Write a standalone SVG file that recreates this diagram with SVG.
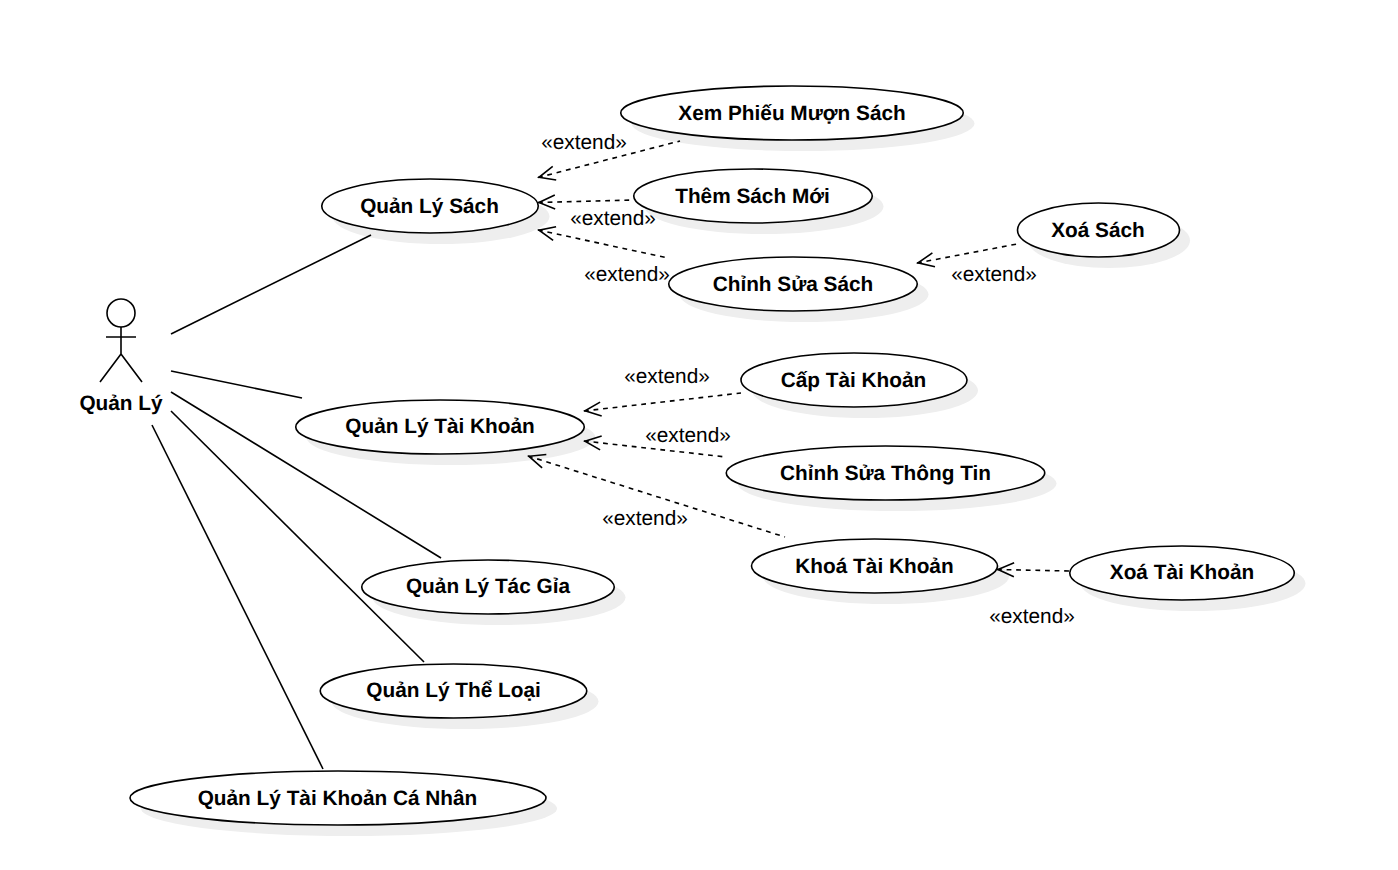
<svg xmlns="http://www.w3.org/2000/svg" width="1398" height="870" viewBox="0 0 1398 870">
<defs>
<marker id="open" markerUnits="userSpaceOnUse" markerWidth="20" markerHeight="16" refX="0" refY="8" orient="auto" viewBox="0 0 20 16" overflow="visible"><path d="M17 1 L1 8 L17 15" fill="none" stroke="#000" stroke-width="1.6"/></marker>
</defs>
<style>
text{font-family:"Liberation Sans",Arial,sans-serif;fill:#000;text-rendering:geometricPrecision}
.n{font-size:20.8px;font-weight:bold;text-anchor:middle}
.e{font-size:20.8px;text-anchor:middle}
.el{fill:#fff;stroke:#000;stroke-width:1.6}
.sh{fill:#eee;stroke:none}
.a{fill:none;stroke:#000;stroke-width:1.6}
.d{fill:none;stroke:#000;stroke-width:1.6;stroke-dasharray:4.8 4.8;marker-start:url(#open)}
</style>
<rect width="1398" height="870" fill="#fff"/>
<g id="n1"><ellipse class="sh" cx="441" cy="216.500" rx="108.500" ry="27.500"/><ellipse class="el" cx="430" cy="206" rx="108.250" ry="27"/><text class="n" x="429.500" y="213">Quản Lý Sách</text></g>
<g id="n2"><ellipse class="sh" cx="803" cy="123.500" rx="171.500" ry="27.500"/><ellipse class="el" cx="792" cy="113" rx="171.250" ry="27"/><text class="n" x="792" y="120">Xem Phiếu Mượn Sách</text></g>
<g id="n3"><ellipse class="sh" cx="764" cy="206.500" rx="119.500" ry="27.500"/><ellipse class="el" cx="753" cy="196" rx="119.250" ry="27"/><text class="n" x="752.500" y="203">Thêm Sách Mới</text></g>
<g id="n4"><ellipse class="sh" cx="804" cy="294.500" rx="124.500" ry="27.500"/><ellipse class="el" cx="793" cy="284" rx="124.250" ry="27"/><text class="n" x="793" y="291">Chỉnh Sửa Sách</text></g>
<g id="n5"><ellipse class="sh" cx="1109" cy="240.500" rx="81" ry="27.500"/><ellipse class="el" cx="1098.500" cy="230" rx="81" ry="27"/><text class="n" x="1098" y="237">Xoá Sách</text></g>
<g id="n6"><ellipse class="sh" cx="451" cy="437.500" rx="144.500" ry="27.500"/><ellipse class="el" cx="440" cy="427" rx="144.250" ry="27"/><text class="n" x="440" y="433">Quản Lý Tài Khoản</text></g>
<g id="n7"><ellipse class="sh" cx="865" cy="390.500" rx="113" ry="27.500"/><ellipse class="el" cx="854" cy="380" rx="113" ry="27"/><text class="n" x="853.500" y="387">Cấp Tài Khoản</text></g>
<g id="n8"><ellipse class="sh" cx="897" cy="483.500" rx="159.500" ry="27.500"/><ellipse class="el" cx="885.500" cy="473" rx="159.250" ry="27"/><text class="n" x="885.500" y="480">Chỉnh Sửa Thông Tin</text></g>
<g id="n9"><ellipse class="sh" cx="886" cy="576.500" rx="123" ry="27.500"/><ellipse class="el" cx="874.500" cy="566" rx="123" ry="27"/><text class="n" x="874.500" y="573">Khoá Tài Khoản</text></g>
<g id="n10"><ellipse class="sh" cx="1193" cy="583.500" rx="112.500" ry="27.500"/><ellipse class="el" cx="1182" cy="573" rx="112.250" ry="27"/><text class="n" x="1182" y="579">Xoá Tài Khoản</text></g>
<g id="n11"><ellipse class="sh" cx="499" cy="597.500" rx="126.500" ry="27.500"/><ellipse class="el" cx="488" cy="587" rx="126.250" ry="27"/><text class="n" x="488" y="593">Quản Lý Tác Gỉa</text></g>
<g id="n12"><ellipse class="sh" cx="465" cy="701.500" rx="133.500" ry="27.500"/><ellipse class="el" cx="453.500" cy="691" rx="133.250" ry="27"/><text class="n" x="453.500" y="697">Quản Lý Thể Loại</text></g>
<g id="n13"><ellipse class="sh" cx="349" cy="808.500" rx="208" ry="27.500"/><ellipse class="el" cx="338" cy="798" rx="208" ry="27"/><text class="n" x="337.500" y="805">Quản Lý Tài Khoản Cá Nhân</text></g>
<g id="connectors">
<path class="a" d="M171 334L371 235"/><path class="a" d="M171 371L302 398"/><path class="a" d="M171 392L441 558"/><path class="a" d="M171 411L424 662"/><path class="a" d="M152 425L323 769"/>
<path class="d" d="M538 177.500L680 141"/><path class="d" d="M538 202.500L634 200"/><path class="d" d="M538 230L668 258"/><path class="d" d="M917 263L1017 244"/>
<path class="d" d="M584 411L741 393"/><path class="d" d="M584 441L726 457"/><path class="d" d="M528 456L785 537"/><path class="d" d="M997 569.500L1070 571"/>
</g>
<g id="labels">
<text class="e" x="584" y="149">«extend»</text><text class="e" x="613" y="225">«extend»</text><text class="e" x="627" y="281">«extend»</text><text class="e" x="994" y="281">«extend»</text><text class="e" x="667" y="383">«extend»</text><text class="e" x="688" y="442">«extend»</text><text class="e" x="645" y="525">«extend»</text><text class="e" x="1032" y="623">«extend»</text>
</g>
<g id="actor">
<circle cx="121" cy="313" r="14" fill="#fff" stroke="#000" stroke-width="1.6"/>
<path class="a" d="M121 327V354M106 337H136M121 354L100 382M121 354L142 382"/>
<text class="n" x="121" y="410">Quản Lý</text>
</g>
</svg>
